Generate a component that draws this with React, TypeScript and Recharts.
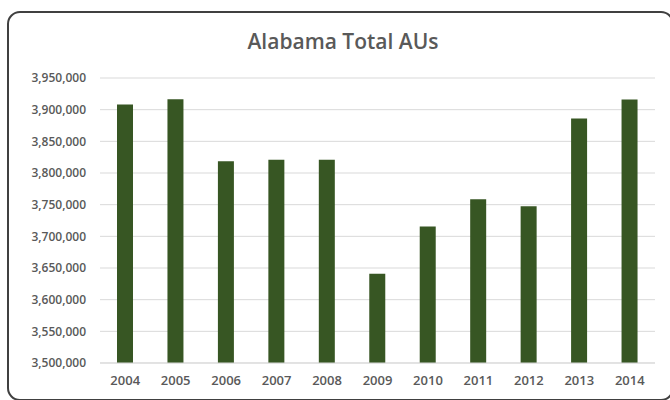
import { Bar, BarChart, CartesianGrid, XAxis, YAxis } from "recharts";

const years = ["2004", "2005", "2006", "2007", "2008", "2009", "2010", "2011", "2012", "2013", "2014"];
const totalAUs = [3908000, 3916500, 3818500, 3821000, 3821000, 3641000, 3715500, 3758500, 3747500, 3886000, 3916000];
const yTicks = [3500000, 3550000, 3600000, 3650000, 3700000, 3750000, 3800000, 3850000, 3900000, 3950000];

const data = years.map((year, i) => ({ year, value: totalAUs[i] }));

const FONT = "'Open Sans', 'Noto Sans', sans-serif";
const TEXT = "#595959";

export default function App() {
  return (
    <div style={{ position: "absolute", left: 0, top: 0, width: 670, height: 400, background: "#fff", overflow: "hidden", fontFamily: FONT }}>
      {/* rounded chart frame, runs past the right and bottom edges */}
      <div
        style={{
          position: "absolute",
          left: 7,
          top: 11,
          width: 663,
          height: 386,
          border: "2px solid #404040",
          borderRadius: 13,
        }}
      />
      <div
        style={{
          position: "absolute",
          left: 0,
          top: 27,
          width: 686,
          textAlign: "center",
          fontSize: 21,
          fontWeight: 600,
          color: TEXT,
        }}
      >
        Alabama Total AUs
      </div>
      <div style={{ position: "absolute", left: 0, top: 0 }}>
        <BarChart width={670} height={400} data={data} margin={{ top: 78, right: 15, bottom: 7, left: 0 }}>
          <CartesianGrid vertical={false} stroke="#d9d9d9" />
          <XAxis
            dataKey="year"
            axisLine={{ stroke: "#d9d9d9" }}
            tickLine={false}
            tickSize={0}
            tickMargin={13}
            height={30}
            tick={{ fontSize: 13, fill: TEXT, fontFamily: FONT, fontWeight: 600 }}
          />
          <YAxis
            width={100}
            domain={[3500000, 3950000]}
            ticks={yTicks}
            allowDataOverflow
            axisLine={false}
            tickLine={false}
            tickSize={0}
            tickMargin={14}
            tickFormatter={(v: number) => v.toLocaleString("en-US")}
            tick={{ fontSize: 12, fill: TEXT, fontFamily: FONT, fontWeight: 600 }}
          />
          <Bar dataKey="value" fill="#375623" barSize={16} isAnimationActive={false} />
        </BarChart>
      </div>
    </div>
  );
}
